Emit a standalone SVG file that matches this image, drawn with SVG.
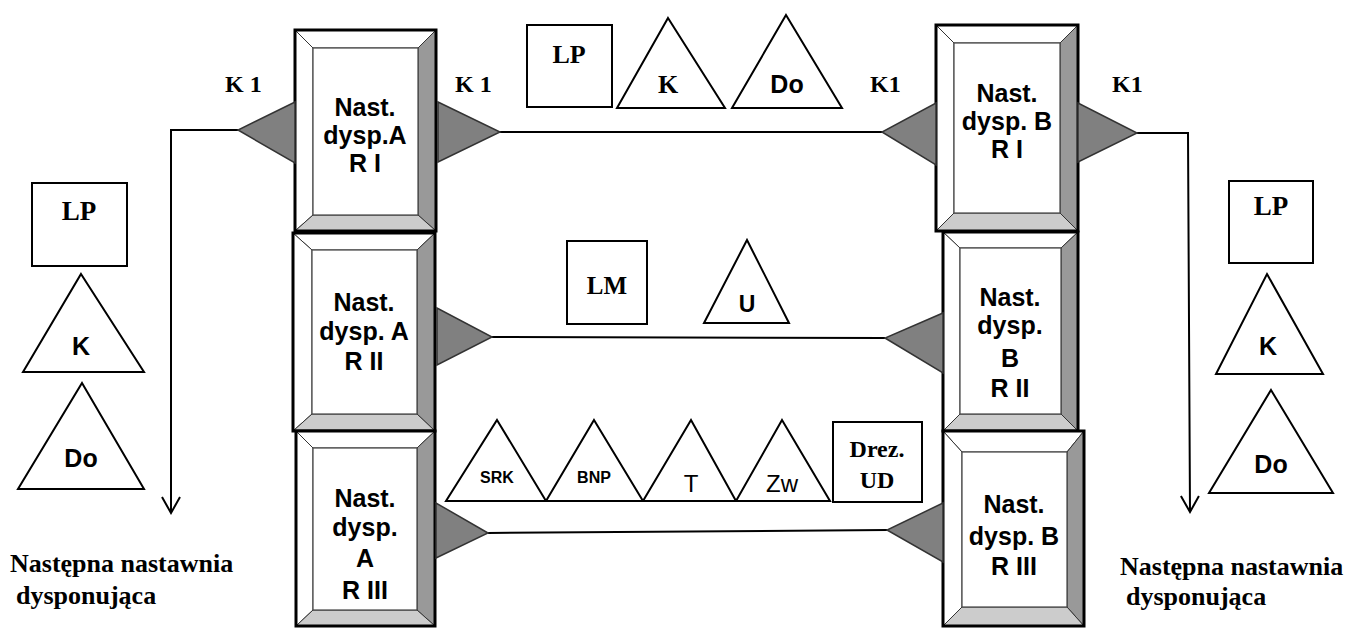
<svg xmlns="http://www.w3.org/2000/svg" width="1349" height="628" viewBox="0 0 1349 628">
<defs>
<marker id="vee" viewBox="0 0 20 20" refX="18" refY="10" markerWidth="20" markerHeight="20" markerUnits="userSpaceOnUse" orient="auto">
<path d="M2,1 L18,10 L2,19" fill="none" stroke="#000" stroke-width="2"/>
</marker>
</defs>
<style>
.bg{fill:#fff}
.out{fill:none;stroke:#000;stroke-width:3}
.inn{fill:#fff;stroke:#444;stroke-width:1.2}
.bt{fill:#fff;stroke:#333;stroke-width:1}
.bl{fill:#fff;stroke:#333;stroke-width:1}
.br{fill:#999;stroke:#333;stroke-width:1}
.bb{fill:#ccc;stroke:#333;stroke-width:1}
.arr{fill:#808080;stroke:#333;stroke-width:1.5;stroke-linejoin:miter}
.shape{fill:#fff;stroke:#000;stroke-width:2}
.ln{fill:none;stroke:#000;stroke-width:2}
.bx{font-family:"Liberation Sans",Arial,sans-serif;font-weight:bold;font-size:25px;text-anchor:middle;fill:#000}
.sb{font-family:"Liberation Sans",Arial,sans-serif;font-weight:bold;text-anchor:middle;fill:#000}
.sr{font-family:"Liberation Sans",Arial,sans-serif;font-weight:normal;text-anchor:middle;fill:#000}
.ser{font-family:"Liberation Serif","Times New Roman",serif;font-weight:bold;fill:#000}
</style>
<rect class="bg" x="0" y="0" width="1349" height="628"/>

<g id="connectors">
<line class="ln" x1="500" y1="132" x2="882" y2="132"/>
<line class="ln" x1="492" y1="337" x2="885" y2="338"/>
<line class="ln" x1="488" y1="533" x2="887" y2="530"/>
<polyline class="ln" points="238,130 171,130 171,513" marker-end="url(#vee)"/>
<polyline class="ln" points="1137,133 1188,133 1190,512" marker-end="url(#vee)"/>
</g>

<g id="node-A-RI">
<polygon class="bt" points="295,30 436,30 418,48 313,48"/>
<polygon class="bl" points="295,30 313,48 313,215 295,231"/>
<polygon class="br" points="436,30 436,231 418,215 418,48"/>
<polygon class="bb" points="295,231 313,215 418,215 436,231"/>
<rect class="inn" x="313" y="48" width="105" height="167"/>
<rect class="out" x="295" y="30" width="141" height="201"/>
<text class="bx" x="365" y="116">Nast.</text>
<text class="bx" x="365" y="144">dysp.A</text>
<text class="bx" x="365" y="172">R I</text>
<polygon class="arr" points="295,102 295,163 238,130"/>
<polygon class="arr" points="438,102 438,162 500,132"/>
</g>

<g id="node-A-RII">
<polygon class="bt" points="293,233 435,233 417,250 312,250"/>
<polygon class="bl" points="293,233 312,250 312,414 293,431"/>
<polygon class="br" points="435,233 435,431 417,414 417,250"/>
<polygon class="bb" points="293,431 312,414 417,414 435,431"/>
<rect class="inn" x="312" y="250" width="105" height="164"/>
<rect class="out" x="293" y="233" width="142" height="198"/>
<text class="bx" x="364" y="311">Nast.</text>
<text class="bx" x="364" y="340">dysp. A</text>
<text class="bx" x="364" y="370">R II</text>
<polygon class="arr" points="437,308 437,365 492,337"/>
</g>

<g id="node-A-RIII">
<polygon class="bt" points="296,431 435,431 417,448 313,448"/>
<polygon class="bl" points="296,431 313,448 313,610 296,626"/>
<polygon class="br" points="435,431 435,626 417,610 417,448"/>
<polygon class="bb" points="296,626 313,610 417,610 435,626"/>
<rect class="inn" x="313" y="448" width="104" height="162"/>
<rect class="out" x="296" y="431" width="139" height="195"/>
<text class="bx" x="365" y="507">Nast.</text>
<text class="bx" x="365" y="536">dysp.</text>
<text class="bx" x="365" y="567">A</text>
<text class="bx" x="365" y="599">R III</text>
<polygon class="arr" points="436,503 436,558 488,533"/>
</g>

<g id="node-B-RI">
<polygon class="bt" points="936,25 1078,25 1060,43 954,43"/>
<polygon class="bl" points="936,25 954,43 954,213 936,231"/>
<polygon class="br" points="1078,25 1078,231 1060,213 1060,43"/>
<polygon class="bb" points="936,231 954,213 1060,213 1078,231"/>
<rect class="inn" x="954" y="43" width="106" height="170"/>
<rect class="out" x="936" y="25" width="142" height="206"/>
<text class="bx" x="1007" y="102">Nast.</text>
<text class="bx" x="1007" y="130">dysp. B</text>
<text class="bx" x="1007" y="158">R I</text>
<polygon class="arr" points="936,103 936,165 882,132"/>
<polygon class="arr" points="1078,103 1078,162 1137,133"/>
</g>

<g id="node-B-RII">
<polygon class="bt" points="943,232 1078,232 1061,248 960,248"/>
<polygon class="bl" points="943,232 960,248 960,414 943,431"/>
<polygon class="br" points="1078,232 1078,431 1061,414 1061,248"/>
<polygon class="bb" points="943,431 960,414 1061,414 1078,431"/>
<rect class="inn" x="960" y="248" width="101" height="166"/>
<rect class="out" x="943" y="232" width="135" height="199"/>
<text class="bx" x="1010" y="306">Nast.</text>
<text class="bx" x="1010" y="334">dysp.</text>
<text class="bx" x="1010" y="367">B</text>
<text class="bx" x="1010" y="397">R II</text>
<polygon class="arr" points="943,313 943,373 885,338"/>
</g>

<g id="node-B-RIII">
<polygon class="bt" points="943,431 1084,431 1067,452 962,452"/>
<polygon class="bl" points="943,431 962,452 962,607 943,626"/>
<polygon class="br" points="1084,431 1084,626 1067,607 1067,452"/>
<polygon class="bb" points="943,626 962,607 1067,607 1084,626"/>
<rect class="inn" x="962" y="452" width="105" height="155"/>
<rect class="out" x="943" y="431" width="141" height="195"/>
<text class="bx" x="1014" y="513">Nast.</text>
<text class="bx" x="1014" y="545">dysp. B</text>
<text class="bx" x="1014" y="575">R III</text>
<polygon class="arr" points="943,503 943,562 887,530"/>
</g>

<g id="labels-K1">
<text class="ser" x="225" y="92" font-size="24">K 1</text>
<text class="ser" x="455" y="92" font-size="24">K 1</text>
<text class="ser" x="870" y="92" font-size="24">K1</text>
<text class="ser" x="1112" y="92" font-size="24">K1</text>
</g>

<g id="top-LP">
<rect class="shape" x="527" y="25" width="85" height="82"/>
<text class="ser" x="569" y="63" font-size="26" text-anchor="middle">LP</text>
</g>
<g id="top-K">
<polygon class="shape" points="668,18 725,108 617,108"/>
<text class="ser" x="668" y="93" font-size="26" text-anchor="middle">K</text>
</g>
<g id="top-Do">
<polygon class="shape" points="786,15 842,108 732,108"/>
<text class="sb" x="787" y="93" font-size="25">Do</text>
</g>

<g id="mid-LM">
<rect class="shape" x="567" y="241" width="80" height="83"/>
<text class="ser" x="607" y="294" font-size="25" text-anchor="middle">LM</text>
</g>
<g id="mid-U">
<polygon class="shape" points="747,240 789,323 704,323"/>
<text class="sb" x="747" y="312" font-size="23">U</text>
</g>

<g id="bot-SRK">
<polygon class="shape" points="497,420 546,501 446,501"/>
<text class="sb" x="497" y="483" font-size="16">SRK</text>
</g>
<g id="bot-BNP">
<polygon class="shape" points="594,420 643,501 546,501"/>
<text class="sb" x="594" y="483" font-size="16">BNP</text>
</g>
<g id="bot-T">
<polygon class="shape" points="691,420 736,501 643,501"/>
<text class="sr" x="691" y="492" font-size="24">T</text>
</g>
<g id="bot-Zw">
<polygon class="shape" points="782,420 830,501 736,501"/>
<text class="sr" x="782" y="492" font-size="24">Zw</text>
</g>
<g id="bot-DrezUD">
<rect class="shape" x="833" y="422" width="89" height="80"/>
<text class="ser" x="877" y="457" font-size="24" text-anchor="middle">Drez.</text>
<text class="ser" x="877" y="488" font-size="24" text-anchor="middle">UD</text>
</g>

<g id="left-LP">
<rect class="shape" x="32" y="183" width="95" height="83"/>
<text class="ser" x="79" y="220" font-size="27" text-anchor="middle">LP</text>
</g>
<g id="left-K">
<polygon class="shape" points="81,274 144,372 23,372"/>
<text class="sb" x="81" y="355" font-size="25">K</text>
</g>
<g id="left-Do">
<polygon class="shape" points="82,383 144,489 18,489"/>
<text class="sb" x="81" y="467" font-size="25">Do</text>
</g>

<g id="right-LP">
<rect class="shape" x="1229" y="181" width="84" height="82"/>
<text class="ser" x="1271" y="215" font-size="27" text-anchor="middle">LP</text>
</g>
<g id="right-K">
<polygon class="shape" points="1267,274 1323,374 1216,374"/>
<text class="sb" x="1268" y="355" font-size="25">K</text>
</g>
<g id="right-Do">
<polygon class="shape" points="1271,390 1333,493 1209,493"/>
<text class="sb" x="1271" y="473" font-size="25">Do</text>
</g>

<g id="text-left-next">
<text class="ser" x="10" y="572" font-size="26">Następna nastawnia</text>
<text class="ser" x="16" y="604" font-size="26">dysponująca</text>
</g>
<g id="text-right-next">
<text class="ser" x="1120" y="575" font-size="26">Następna nastawnia</text>
<text class="ser" x="1126" y="605" font-size="26">dysponująca</text>
</g>
</svg>
